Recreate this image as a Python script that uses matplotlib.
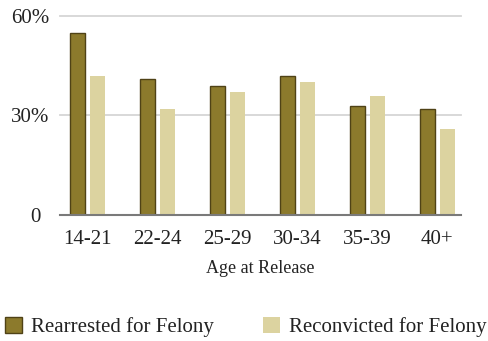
import matplotlib.pyplot as plt
import matplotlib.patches as mpatches
import matplotlib.transforms as mtransforms
import numpy as np

# ── data ─────────────────────────────────────────────────────────────────────
AGE_GROUPS   = ['14-21', '22-24', '25-29', '30-34', '35-39', '40+']
REARRESTED   = [55, 41, 39, 42, 33, 32]
RECONVICTED  = [42, 32, 37, 40, 36, 26]
Y_TICKS      = [0, 30, 60]
Y_TICK_LABELS = ['0', '30%', '60%']

DARK      = '#8c7a2c'
DARK_EDGE = '#4f4216'
LIGHT     = '#dcd3a0'

plt.rcParams['font.family'] = ['Liberation Serif', 'DejaVu Serif']

fig = plt.figure(figsize=(4.88, 3.41), dpi=100)
ax = fig.add_axes([0.123, 0.3695, 0.822, 0.5836])

x = np.arange(len(AGE_GROUPS))
w = 0.21
off = 0.143
ax.bar(x - off, REARRESTED, width=w, color=DARK, edgecolor=DARK_EDGE, linewidth=1.0, zorder=3)
ax.bar(x + off, RECONVICTED, width=w, color=LIGHT, edgecolor='none', zorder=3)

ax.set_xlim(-0.39, 5.34)
ax.set_ylim(0, 60)

for y in (30, 60):
    ax.axhline(y, color='#d6d6d6', linewidth=1.3, zorder=1, clip_on=False)
ax.axhline(0, color='#7a7a7a', linewidth=1.5, zorder=4, clip_on=False)

for s in ax.spines.values():
    s.set_visible(False)

ax.set_yticks(Y_TICKS)
ax.set_yticklabels(Y_TICK_LABELS, fontsize=15, color='#222222')
ax.set_xticks(x)
ax.set_xticklabels(AGE_GROUPS, fontsize=15, color='#222222')
ax.tick_params(axis='both', length=0)
ax.tick_params(axis='y', pad=8)
ax.tick_params(axis='x', pad=11)

# nudge the "0" label left like the original
lbl0 = ax.get_yticklabels()[0]
lbl0.set_transform(lbl0.get_transform() + mtransforms.ScaledTranslation(-8 / 100, 0, fig.dpi_scale_trans))

ax.set_xlabel('Age at Release', fontsize=13, color='#222222', labelpad=8)

handles = [
    mpatches.Patch(facecolor=DARK, edgecolor=DARK_EDGE, label='Rearrested for Felony'),
    mpatches.Patch(facecolor=LIGHT, edgecolor='none', label='Reconvicted for Felony'),
]
fig.legend(handles=handles, loc='center left', bbox_to_anchor=(-0.028, 0.04), ncol=2,
           frameon=False, prop={'family': ['Liberation Serif'], 'size': 15},
           handlelength=0.8, handleheight=0.8,
           handletextpad=0.45, columnspacing=2.37, labelcolor='#222222')

fig.savefig('out.png', dpi=100)
